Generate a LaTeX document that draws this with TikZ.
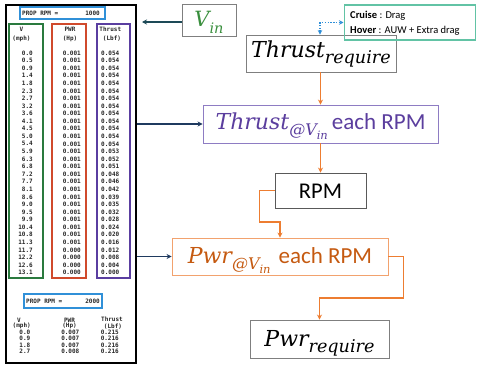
\RequirePackage{fix-cm}
\documentclass[tikz,border=0pt]{standalone}
\usepackage{fontspec}
\usepackage{graphicx}
\usetikzlibrary{arrows.meta}
\newfontfamily\carl{Carlito}
\newfontfamily\monof{DejaVu Sans Mono}
\newfontfamily\dvs{DejaVu Serif}
\definecolor{orangec}{HTML}{ED7D31}
\definecolor{navyc}{HTML}{1F3A5F}
\definecolor{vinarr}{HTML}{1D4A57}
\definecolor{boxgray}{HTML}{7F7F7F}
\definecolor{vgreen}{HTML}{3A8F3E}
\definecolor{purtxt}{HTML}{5B3E9E}
\definecolor{purbord}{HTML}{8E7CC3}
\definecolor{pwrtxt}{HTML}{C55A11}
\definecolor{pwrbord}{HTML}{F2A26E}
\definecolor{dotblue}{HTML}{2E8FD8}
\definecolor{cruisec}{HTML}{62C3A5}
\definecolor{tgreen}{HTML}{2A7A3E}
\definecolor{tred}{HTML}{D04A2C}
\definecolor{tpurple}{HTML}{5A3EA0}
\definecolor{tblue}{HTML}{3090D8}
\newcommand{\msz}[2]{{\dvs\itshape\fontsize{#1}{#1}\selectfont #2}}
\tikzset{
  cell/.style={inner sep=0, font=\monof\bfseries\fontsize{6}{6}\selectfont, text=black!85},
  grybox/.style={draw=boxgray, line width=0.9, inner sep=0},
  oarr/.style={draw=orangec, line width=1.8, -{Stealth[length=5pt,width=5pt]}},
  narr/.style={draw=navyc, line width=1.8, -{Stealth[length=5pt,width=5pt]}},
  colbox/.style={line width=2, inner sep=0, fill=none},
}
\begin{document}
\begin{tikzpicture}[x=1pt,y=-1pt]
\useasboundingbox (0,0) rectangle (477,367);
% ---------- table ----------
\node[draw=black, line width=2, minimum width=130, minimum height=358.5, inner sep=0] (frame) at (71,183.75) {};
\node[draw=tblue, colbox, minimum width=85, minimum height=12] (hdr1) at (62.5,13) {};
\node[draw=tgreen, colbox, minimum width=33.5, minimum height=254] (colv) at (25.75,151) {};
\node[draw=tred, colbox, minimum width=34.5, minimum height=254] (colp) at (68.75,151) {};
\node[draw=tpurple, colbox, minimum width=32.5, minimum height=254] (colt) at (113.25,151) {};
\node[cell, anchor=west] (rpm1) at (22,13) {PROP RPM =};
\node[cell, anchor=east] (rpm1v) at (100,13) {1000};
\node[cell] (hv1) at (21.5,29.3) {V};
\node[cell] (hv2) at (21.5,39) {(mph)};
\node[cell] (hp1) at (70,29.3) {PWR};
\node[cell] (hp2) at (70,39) {(Hp)};
\node[cell] (ht1) at (110.3,29.3) {Thrust};
\node[cell] (ht2) at (112,39) {(Lbf)};
\foreach \v/\p/\t [count=\i] in {0.0/0.001/0.054, 0.5/0.001/0.054, 0.9/0.001/0.054, 1.4/0.001/0.054, 1.8/0.001/0.054, 2.3/0.001/0.054, 2.7/0.001/0.054, 3.2/0.001/0.054, 3.6/0.001/0.054, 4.1/0.001/0.054, 4.5/0.001/0.054, 5.0/0.001/0.054, 5.4/0.001/0.054, 5.9/0.001/0.053, 6.3/0.001/0.052, 6.8/0.001/0.051, 7.2/0.001/0.048, 7.7/0.001/0.046, 8.1/0.001/0.042, 8.6/0.001/0.039, 9.0/0.001/0.035, 9.5/0.001/0.032, 9.9/0.001/0.028, 10.4/0.001/0.024, 10.8/0.001/0.020, 11.3/0.001/0.016, 11.7/0.000/0.012, 12.2/0.000/0.008, 12.6/0.000/0.004, 13.1/0.000/0.000}{
  \node[cell, anchor=east] (va\i) at (33,{53+(\i-1)*7.57}) {\v};
  \node[cell] (pa\i) at (71.8,{53+(\i-1)*7.57}) {\p};
  \node[cell] (ta\i) at (110.2,{53+(\i-1)*7.57}) {\t};
}
\node[draw=tblue, colbox, minimum width=77.4, minimum height=13.2] (hdr2) at (63,300.9) {};
\node[cell, anchor=west] (rpm2) at (26,300.9) {PROP RPM =};
\node[cell, anchor=east] (rpm2v) at (100,300.9) {2000};
\node[cell] (hw1) at (19,320) {V};
\node[cell] (hw2) at (21.7,326.3) {(mph)};
\node[cell] (hq1) at (69.5,320) {PWR};
\node[cell] (hq2) at (69.5,326.3) {(Hp)};
\node[cell] (hs1) at (112,319.5) {Thrust};
\node[cell] (hs2) at (113,326.3) {(Lbf)};
\foreach \v/\p/\t [count=\i] in {0.0/0.007/0.215, 0.9/0.007/0.216, 1.8/0.007/0.216, 2.7/0.008/0.216}{
  \node[cell, anchor=east] (vb\i) at (30.5,{332.3+(\i-1)*6.4}) {\v};
  \node[cell] (pb\i) at (70.3,{332.3+(\i-1)*6.4}) {\p};
  \node[cell] (tb\i) at (109.8,{332.3+(\i-1)*6.4}) {\t};
}
% ---------- flow ----------
\node[grybox, minimum width=54, minimum height=32, text height=15, text depth=1.6] (vin) at (209,20)
  {\textcolor{vgreen}{\msz{21}{V}\raisebox{-6.6pt}{\msz{14.5}{in}}}};
\node[grybox, minimum width=150, minimum height=37, text height=15, text depth=7.4] (treq) at (321,53.5)
  {\msz{22}{Thrust}\raisebox{-6pt}{\msz{17.6}{require}}};
\node[draw=cruisec, line width=1.5, minimum width=131, minimum height=35, inner sep=0] (cr) at (409.75,22.5) {};
\node[anchor=west, align=left, inner sep=0, font=\carl\fontsize{10.5}{15.7}\selectfont] (crtxt) at (350,23.2)
  {\textbf{Cruise} : Drag\\\textbf{Hover} : AUW + Extra drag};
\node[draw=purbord, line width=0.9, inner sep=0, minimum width=235, minimum height=38, text height=15, text depth=4.4, text=purtxt] (tvin) at (320.5,124)
  {\msz{22}{Thrust}\raisebox{-5.7pt}{\msz{16}{@V}\raisebox{-4.3pt}{\msz{11.5}{in}}}\hspace{4pt}{\carl\fontsize{23}{23}\selectfont each RPM}};
\node[grybox, draw=gray!70!black, minimum width=91, minimum height=35, text height=15.6, text depth=0] (rpm) at (320.5,190.5)
  {\carl\fontsize{22.5}{22.5}\selectfont RPM};
\node[draw=pwrbord, line width=0.9, inner sep=0, minimum width=216, minimum height=37, text height=15, text depth=1.4, text=pwrtxt] (pvin) at (280,256.5)
  {\msz{22}{Pwr}\raisebox{-5.7pt}{\msz{16}{@V}\raisebox{-4.3pt}{\msz{11.5}{in}}}\hspace{8pt}{\carl\fontsize{23}{23}\selectfont each RPM}};
\node[grybox, minimum width=139, minimum height=38, text height=15.4, text depth=0] (preq) at (319.5,339)
  {\msz{22}{Pwr}\raisebox{-6pt}{\msz{17.6}{require}}};
% ---------- connectors ----------
\coordinate (vinend) at (142,22);
\draw[draw=vinarr, line width=1.8, -{Stealth[length=5pt,width=5pt]}] (vin.west |- vinend) -- (vinend);
\draw[draw=dotblue, line width=1.4, dash pattern=on 1.4pt off 1.4pt, {Stealth[length=4.5pt,width=4.5pt]}-{Stealth[length=4.5pt,width=4.5pt]}]
  (treq.north -| 320,0) |- (cr.west);
\draw[oarr] (treq.south -| tvin.north) -- (tvin.north);
\draw[oarr] (tvin.south) -- (rpm.north);
\draw[oarr] (rpm.west) -- ++(-15,0) |- (280,222) -- (pvin.north -| 280,0);
\draw[oarr] (pvin.east) -- ++(15,0) |- (preq.north |- 0,298) -- (preq.north);
\draw[narr] (frame.east |- tvin.west) -- (tvin.west);
\draw[narr] (frame.east |- pvin.west) -- (pvin.west);
\end{tikzpicture}
\end{document}
